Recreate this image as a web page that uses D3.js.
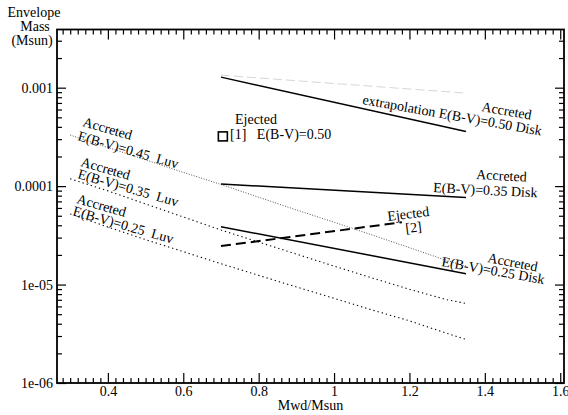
<!DOCTYPE html>
<html><head><meta charset="utf-8">
<script src="https://cdn.jsdelivr.net/npm/d3@7"></script>
<style>
html,body{margin:0;padding:0;background:#fff;}
svg text{font-family:"Liberation Serif","Times New Roman","DejaVu Serif",serif;white-space:pre;}
</style></head><body>
<svg id="chart" width="568" height="415"></svg>
<script>
// ---- data ----
const xTicks = [0.4, 0.6, 0.8, 1.0, 1.2, 1.4, 1.6];
const xTickLabels = ["0.4", "0.6", "0.8", "1", "1.2", "1.4", "1.6"];
const yTicks = [1e-6, 1e-5, 1e-4, 1e-3];
const yTickLabels = ["1e-06", "1e-05", "0.0001", "0.001"];

const diskX = [0.7, 1.35];
const disk050 = [1.28e-3, 3.58e-4];
const disk035 = [1.05e-4, 7.66e-5];
const disk025 = [3.87e-5, 1.29e-5];
const extrapX = [0.7, 1.35];
const extrap050 = [1.34e-3, 8.8e-4];
const ejected2X = [0.7, 1.18];
const ejected2Y = [2.46e-5, 4.3e-5];
const luvX = [0.3, 0.4, 0.5, 0.6, 0.7, 0.8, 0.9, 1.0, 1.1, 1.2, 1.3, 1.35];
const luv045 = [3.30e-4, 2.47e-4, 1.85e-4, 1.38e-4, 1.04e-4, 7.72e-5, 5.73e-5, 4.30e-5, 3.20e-5, 2.37e-5, 1.75e-5, 1.54e-5];
const luv035 = [1.187e-4, 8.95e-5, 6.59e-5, 4.86e-5, 3.58e-5, 2.70e-5, 2.04e-5, 1.54e-5, 1.17e-5, 8.95e-6, 7.00e-6, 6.44e-6];
const luv025 = [5.22e-5, 3.84e-5, 2.86e-5, 2.16e-5, 1.63e-5, 1.24e-5, 9.46e-6, 7.25e-6, 5.53e-6, 4.28e-6, 3.19e-6, 2.77e-6];
const ejected1X = [0.705];
const ejected1Y = [3.2e-4];

// ---- layout ----
const FF = "Liberation Serif, Times New Roman, DejaVu Serif, serif";
const svg = d3.select("#chart").attr("font-family", FF);
const L = 57, R = 564, T = 29.5, B = 383;
const x = d3.scaleLinear().domain([0.265, 1.61]).range([L, R]);
const y = d3.scaleLog().domain([1e-6, 3.9e-3]).range([B, T]);
const FONT = 14;

// minor ticks
const xMinor = d3.range(0.28, 1.6001, 0.02).filter(v => !xTicks.some(t => Math.abs(t - v) < 1e-6));
const yMinor = [];
[-6, -5, -4, -3].forEach(d => { for (let k = 2; k <= 9; k++) { const v = k * Math.pow(10, d); if (v <= 3.9e-3) yMinor.push(v); } });

function styleAxis(g) {
  g.attr("font-family", FF).attr("font-size", FONT);
  g.select(".domain").remove();
  g.selectAll("line").attr("stroke", "#000").attr("stroke-width", 1.2);
  g.selectAll("text").attr("font-family", FF).attr("font-size", FONT).attr("fill", "#000");
}

// bottom
svg.append("g").attr("transform", `translate(0,${B})`)
  .call(d3.axisBottom(x).tickValues(xTicks).tickSize(-10).tickPadding(3).tickFormat((d, i) => xTickLabels[i]))
  .call(styleAxis);
svg.append("g").attr("transform", `translate(0,${B})`)
  .call(d3.axisBottom(x).tickValues(xMinor).tickSize(-5).tickFormat(""))
  .call(styleAxis);
// top
svg.append("g").attr("transform", `translate(0,${T})`)
  .call(d3.axisTop(x).tickValues(xTicks).tickSize(-10).tickFormat(""))
  .call(styleAxis);
svg.append("g").attr("transform", `translate(0,${T})`)
  .call(d3.axisTop(x).tickValues(xMinor).tickSize(-5).tickFormat(""))
  .call(styleAxis);
// left
svg.append("g").attr("transform", `translate(${L},0)`)
  .call(d3.axisLeft(y).tickValues(yTicks).tickSize(-9).tickPadding(4).tickFormat((d, i) => yTickLabels[i]))
  .call(styleAxis);
svg.append("g").attr("transform", `translate(${L},0)`)
  .call(d3.axisLeft(y).tickValues(yMinor).tickSize(-5).tickFormat(""))
  .call(styleAxis);
// right
svg.append("g").attr("transform", `translate(${R},0)`)
  .call(d3.axisRight(y).tickValues(yTicks).tickSize(-9).tickFormat(""))
  .call(styleAxis);
svg.append("g").attr("transform", `translate(${R},0)`)
  .call(d3.axisRight(y).tickValues(yMinor).tickSize(-5).tickFormat(""))
  .call(styleAxis);

// frame
svg.append("rect").attr("x", L).attr("y", T).attr("width", R - L).attr("height", B - T)
  .attr("fill", "none").attr("stroke", "#000").attr("stroke-width", 1.8);

// axis titles
const yt = svg.append("text").attr("font-family", FF).attr("font-size", FONT).attr("text-anchor", "middle");
yt.append("tspan").attr("x", 34).attr("y", 17).text("Envelope");
yt.append("tspan").attr("x", 35).attr("y", 31).text("Mass");
yt.append("tspan").attr("x", 32).attr("y", 45).text("(Msun)");
svg.append("text").attr("x", (L + R) / 2).attr("y", 410).attr("text-anchor", "middle")
  .attr("font-family", FF).attr("font-size", FONT).text("Mwd/Msun");

// ---- lines ----
const line = d3.line().x(d => x(d[0])).y(d => y(d[1]));
const zip = (xs, ys) => xs.map((v, i) => [v, ys[i]]);
const plot = (xs, ys, stroke, width, dash) => svg.append("path")
  .attr("d", line(zip(xs, ys))).attr("fill", "none")
  .attr("stroke", stroke).attr("stroke-width", width)
  .attr("stroke-dasharray", dash || null);

plot(extrapX, extrap050, "#d6d6d6", 1, "9,4");
plot(luvX, luv045, "#555", 1, "1,1.6");
plot(luvX, luv035, "#000", 1.1, "1.3,3");
plot(luvX, luv025, "#000", 1.1, "1.3,3");
plot(diskX, disk050, "#000", 1.5);
plot(diskX, disk035, "#000", 1.5);
plot(diskX, disk025, "#000", 1.5);
plot(ejected2X, ejected2Y, "#000", 2, "10,5");

// square marker
svg.selectAll("rect.pt").data(zip(ejected1X, ejected1Y)).enter().append("rect")
  .attr("class", "pt")
  .attr("x", d => x(d[0]) - 4.5).attr("y", d => y(d[1]) - 4.5)
  .attr("width", 9).attr("height", 9)
  .attr("fill", "none").attr("stroke", "#000").attr("stroke-width", 1.6);

// ---- annotations ----
const labels = [
  ["Ejected", 235, 124, 0],
  ["[1]   E(B-V)=0.50", 230, 139, 0],
  ["extrapolation E(B-V)=0.50 Disk", 362, 104, 10],
  ["Accreted", 481, 111, 10],
  ["Accreted", 476, 179, 3],
  ["E(B-V)=0.35 Disk", 433, 192, 3],
  ["Accreted", 487, 262, 11],
  ["E(B-V)=0.25 Disk", 441, 266, 10],
  ["Ejected", 388, 221, -7],
  ["[2]", 406, 233, -7],
  ["Accreted", 82, 126, 16],
  ["E(B-V)=0.45  Luv", 77, 140, 16],
  ["Accreted", 80, 166, 16],
  ["E(B-V)=0.35  Luv", 77, 178, 16],
  ["Accreted", 76, 203, 16],
  ["E(B-V)=0.25  Luv", 72, 215, 16]
];
svg.selectAll("text.ann").data(labels).enter().append("text")
  .attr("class", "ann").attr("font-family", FF).attr("font-size", FONT)
  .attr("transform", d => `translate(${d[1]},${d[2]}) rotate(${d[3]})`)
  .text(d => d[0]);
</script>
</body></html>
